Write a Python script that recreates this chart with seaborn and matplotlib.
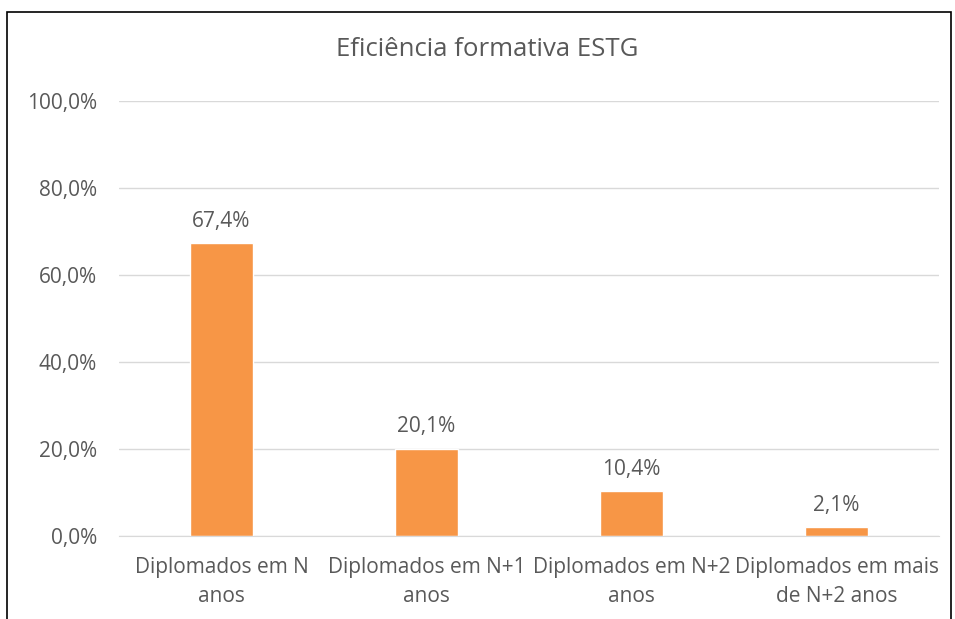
import matplotlib
matplotlib.use("Agg")
import matplotlib.pyplot as plt
import matplotlib.patches as mpatches
from matplotlib.ticker import FuncFormatter
import seaborn as sns
import pandas as pd

categories = ["Diplomados em N\nanos", "Diplomados em N+1\nanos",
              "Diplomados em N+2\nanos", "Diplomados em mais\nde N+2 anos"]
values = [67.4, 20.1, 10.4, 2.1]
title = "Eficiência formativa ESTG"

df = pd.DataFrame({"cat": categories, "val": values})

sns.set_style("white")
plt.rcParams["font.family"] = ["Open Sans", "DejaVu Sans"]

text_col = "#595959"
grid_col = "#D9D9D9"

fig = plt.figure(figsize=(9.55, 6.19), dpi=100)
ax = fig.add_axes([119 / 955, 1 - 536 / 619, 820 / 955, 435 / 619])

sns.barplot(data=df, x="cat", y="val", color="#F79646", saturation=1,
            width=0.31, ax=ax)

ax.set_ylim(0, 100)
ax.set_yticks([0, 20, 40, 60, 80, 100])
ax.yaxis.set_major_formatter(FuncFormatter(lambda v, p: f"{v:.1f}%".replace(".", ",")))
ax.grid(axis="y", color=grid_col, lw=1)
ax.set_axisbelow(True)
for s in ["top", "right", "left"]:
    ax.spines[s].set_visible(False)
ax.spines["bottom"].set_color(grid_col)
ax.tick_params(axis="both", length=0, colors=text_col, labelsize=15)
ax.tick_params(axis="y", pad=16)
ax.tick_params(axis="x", pad=15)
ax.set_xlabel("")
ax.set_ylabel("")
for lbl in ax.get_xticklabels():
    lbl.set_linespacing(1.5)

for i, v in enumerate(values):
    ax.annotate(f"{v:.1f}%".replace(".", ","), (i, v), xytext=(0, 8),
                textcoords="offset points", ha="center", va="bottom",
                fontsize=15, color=text_col)

fig.text(487 / 955, 1 - 49 / 619, title, ha="center", va="center",
         fontsize=18.5, color=text_col)

fig.patches.append(mpatches.Rectangle((7 / 955, -0.1), 944 / 955, 1.1 - 12 / 619,
                                      transform=fig.transFigure, fill=False,
                                      edgecolor="black", lw=1.2))

fig.savefig("out.png", dpi=100)
